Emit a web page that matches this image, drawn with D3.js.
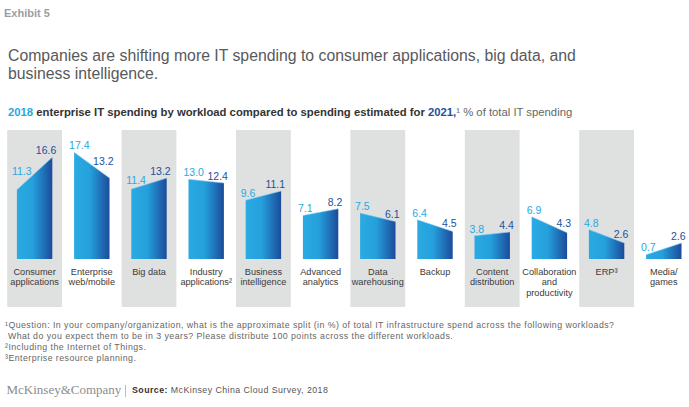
<!DOCTYPE html>
<html><head><meta charset="utf-8">
<script src="https://cdn.jsdelivr.net/npm/d3@7"></script>
<style>
body{margin:0;background:#fff}
svg{display:block}
text{font-family:"Liberation Sans",Arial,Helvetica,sans-serif}
</style>
</head><body>
<svg id="c" width="689" height="407"></svg>
<script>
const categories = ["Consumer\napplications","Enterprise\nweb/mobile","Big data","Industry\napplications²","Business\nintelligence","Advanced\nanalytics","Data\nwarehousing","Backup","Content\ndistribution","Collaboration\nand\nproductivity","ERP³","Media/\ngames"];
const values2018 = [11.3,17.4,11.4,13.0,9.6,7.1,7.5,6.4,3.8,6.9,4.8,0.7];
const values2021 = [16.6,13.2,13.2,12.4,11.1,8.2,6.1,4.5,4.4,4.3,2.6,2.6];
const titleLines = ["Companies are shifting more IT spending to consumer applications, big data, and","business intelligence."];
const footnotes = ["¹Question: In your company/organization, what is the approximate split (in %) of total IT infrastructure spend across the following workloads?"," What do you expect them to be in 3 years? Please distribute 100 points across the different workloads.","²Including the Internet of Things.","³Enterprise resource planning."];

const svg = d3.select("#c");
const LIGHT = "#29a8e0", DARK = "#1f4f9e";

// gradient
const defs = svg.append("defs");
const g = defs.append("linearGradient").attr("id","barGrad").attr("x1","0").attr("x2","1").attr("y1","0").attr("y2","0");
g.append("stop").attr("offset","0").attr("stop-color","#2aaae2");
g.append("stop").attr("offset","0.45").attr("stop-color","#25a0dc");
g.append("stop").attr("offset","1").attr("stop-color","#1c4b9b");

// header
svg.append("text").attr("x",4).attr("y",16.7).attr("font-size",11).attr("font-weight","bold").attr("fill","#9a9ea4").text("Exhibit 5");
svg.selectAll("text.title").data(titleLines).join("text").attr("class","title")
  .attr("x",8).attr("y",(d,i)=>61+i*18.3).attr("font-size",15.8).attr("fill","#58595b").text(d=>d);

const sub = svg.append("text").attr("x",8).attr("y",115.7).attr("font-size",11.3).attr("fill","#333");
sub.append("tspan").attr("font-weight","bold").attr("fill",LIGHT).text("2018");
sub.append("tspan").attr("font-weight","bold").text(" enterprise IT spending by workload compared to spending estimated for ");
sub.append("tspan").attr("font-weight","bold").attr("fill",DARK).text("2021,");
sub.append("tspan").attr("fill","#666").text("¹ % of total IT spending");

// scales
const x = d3.scaleBand().domain(categories).range([6, 692.4]).padding(0);
const y = d3.scaleLinear().domain([0,20]).range([259, 136.4]);
const cx = d => x(d) + x.bandwidth()/2;

const data = categories.map((c,i)=>({c, i, a: values2018[i], b: values2021[i]}));

// shaded columns
svg.append("g").selectAll("rect").data(data.filter(d=>d.i%2===0)).join("rect")
  .attr("x",d=>cx(d.c)-27.4).attr("width",54.8)
  .attr("y",130).attr("height",177).attr("fill","#dfe0e0");

// bars
const BW = 35.4;
const bars = svg.append("g");
bars.selectAll("path").data(data).join("path")
  .attr("d", d=>{
    const x0 = cx(d.c)-BW/2, x1 = cx(d.c)+BW/2;
    return `M${x0},${y(0)}L${x0},${y(d.a)}L${x1},${y(d.b)}L${x1},${y(0)}Z`;
  }).attr("fill","url(#barGrad)");
bars.selectAll("line").data(data).join("line")
  .attr("x1",d=>cx(d.c)-BW/2).attr("x2",d=>cx(d.c)+BW/2)
  .attr("y1",d=>y(d.a)).attr("y2",d=>y(d.b))
  .attr("stroke","#8fd0ef").attr("stroke-width",0.6);

// value labels
const lab = svg.append("g").attr("font-size",10.5);
data.forEach(d=>{
  const x0 = cx(d.c)-BW/2, x1 = cx(d.c)+BW/2;
  const ya = y(d.a), yb = y(d.b);
  const yAt = xx => { const t = Math.max(0, Math.min(1,(xx-x0)/(x1-x0))); return ya + (yb-ya)*t; };
  const tl = lab.append("text").attr("x",x0-5).attr("text-anchor","start").attr("fill",LIGHT).text(d.a.toFixed(1));
  const wl = tl.node().getComputedTextLength();
  tl.attr("y", Math.min(ya-3, yAt(x0-5+wl)-1));
  const tr = lab.append("text").attr("x",x1+4).attr("text-anchor","end").attr("fill",DARK).text(d.b.toFixed(1));
  const wr = tr.node().getComputedTextLength();
  tr.attr("y", Math.min(yb-3, yAt(x1+4-wr)-1));
});

// category labels
const cl = svg.append("g").attr("font-size",9.2).attr("fill","#3a3a3a").attr("text-anchor","middle");
data.forEach(d=>{
  const t = cl.append("text").attr("x",cx(d.c)).attr("y",275);
  d.c.split("\n").forEach((ln,k)=>{
    t.append("tspan").attr("x",cx(d.c)).attr("dy",k===0?0:10.3).text(ln);
  });
});

// footnotes
svg.append("g").selectAll("text").data(footnotes).join("text")
  .attr("x",5).attr("y",(d,i)=>327.5+i*11.3).attr("font-size",8.8).attr("letter-spacing",0.45).attr("fill","#666")
  .attr("xml:space","preserve").style("white-space","pre").text(d=>d);

// footer
svg.append("text").attr("x",6.5).attr("y",393.5).attr("font-size",13).attr("fill","#8a8c8e")
  .style("font-family","'Liberation Serif','Times New Roman',serif").text("McKinsey&Company");
svg.append("line").attr("x1",125.5).attr("x2",125.5).attr("y1",385).attr("y2",397).attr("stroke","#aaa").attr("stroke-width",0.8);
const src = svg.append("text").attr("x",132).attr("y",393).attr("font-size",8.8).attr("letter-spacing",0.45).attr("fill","#555");
src.append("tspan").attr("font-weight","bold").attr("fill","#333").text("Source:");
src.append("tspan").text(" McKinsey China Cloud Survey, 2018");
</script>
</body></html>
